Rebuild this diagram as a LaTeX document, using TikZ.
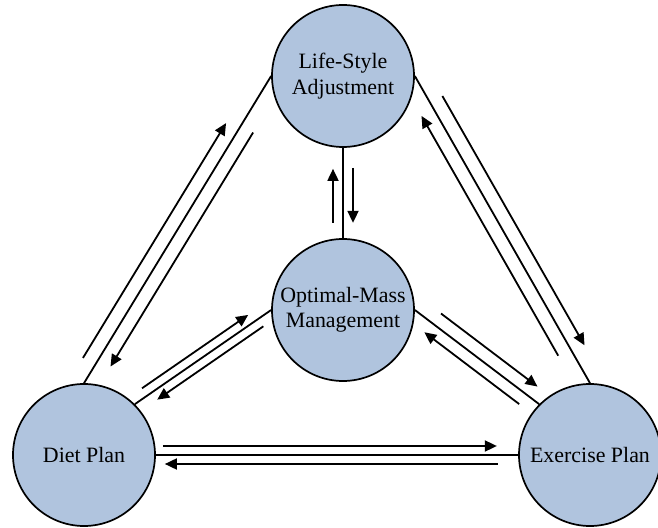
\documentclass[tikz,border=0pt]{standalone}
\usepackage{fontspec}
\setmainfont{Liberation Serif}
\usetikzlibrary{calc,arrows.meta}
\definecolor{fillblue}{RGB}{176,196,222}
\tikzset{
  bubble/.style={circle, draw=black, line width=1.7pt, fill=fillblue, minimum size=142pt,
    inner sep=0pt, align=center, font=\fontsize{21.9}{25.5}\selectfont},
  link/.style={line width=1.8pt},
  arr/.style={line width=1.8pt, -{Triangle[length=12pt,width=11pt]}}
}
\begin{document}
\begin{tikzpicture}[x=1pt,y=1pt]
\useasboundingbox (0,0) rectangle (658,527);
\node[bubble] (T) at (343,451) {Life-Style\\Adjustment};
\node[bubble] (M) at (343,217) {Optimal-Mass\\Management};
\node[bubble] (D) at (84,72) {Diet Plan};
\node[bubble] (E) at (590,72) {Exercise Plan};

\draw[link] (D.north) -- (T.west);
\draw[link] (T.east) -- (E.north);
\draw[link] (T.south) -- (M.north);
\draw[link] (D.north east) -- (M.west);
\draw[link] (M.east) -- (E.north west);
\draw[link] (D.east) -- (E.west);

% Diet -- Life-Style
\draw[arr] ($(D.north)!21pt!(T.west)!14pt!90:(T.west)$) -- ($(D.north)!296pt!(T.west)!14pt!90:(T.west)$);
\draw[arr] ($(D.north)!302pt!(T.west)!14pt!-90:(T.west)$) -- ($(D.north)!28pt!(T.west)!14pt!-90:(T.west)$);
% Life-Style -- Exercise
\draw[arr] ($(T.east)!31pt!(E.north)!14pt!90:(E.north)$) -- ($(T.east)!318pt!(E.north)!14pt!90:(E.north)$);
\draw[arr] ($(T.east)!314pt!(E.north)!14pt!-90:(E.north)$) -- ($(T.east)!38pt!(E.north)!14pt!-90:(E.north)$);
% Life-Style -- Optimal-Mass
\draw[arr] ($(T.south)!20pt!(M.north)!10pt!90:(M.north)$) -- ($(T.south)!75pt!(M.north)!10pt!90:(M.north)$);
\draw[arr] ($(T.south)!75pt!(M.north)!10pt!-90:(M.north)$) -- ($(T.south)!21pt!(M.north)!10pt!-90:(M.north)$);
% Diet -- Optimal-Mass
\draw[arr] ($(D.north east)!15pt!(M.west)!9pt!90:(M.west)$) -- ($(D.north east)!144pt!(M.west)!9pt!90:(M.west)$);
\draw[arr] ($(D.north east)!150pt!(M.west)!9pt!-90:(M.west)$) -- ($(D.north east)!21pt!(M.west)!9pt!-90:(M.west)$);
% Optimal-Mass -- Exercise
\draw[arr] ($(M.east)!23pt!(E.north west)!13pt!90:(E.north west)$) -- ($(M.east)!144pt!(E.north west)!13pt!90:(E.north west)$);
\draw[arr] ($(M.east)!140pt!(E.north west)!12pt!-90:(E.north west)$) -- ($(M.east)!21pt!(E.north west)!12pt!-90:(E.north west)$);
% Diet -- Exercise
\draw[arr] ($(D.east)!7pt!(E.west)!9pt!90:(E.west)$) -- ($(D.east)!341pt!(E.west)!9pt!90:(E.west)$);
\draw[arr] ($(D.east)!342pt!(E.west)!9pt!-90:(E.west)$) -- ($(D.east)!9pt!(E.west)!9pt!-90:(E.west)$);
\end{tikzpicture}
\end{document}
